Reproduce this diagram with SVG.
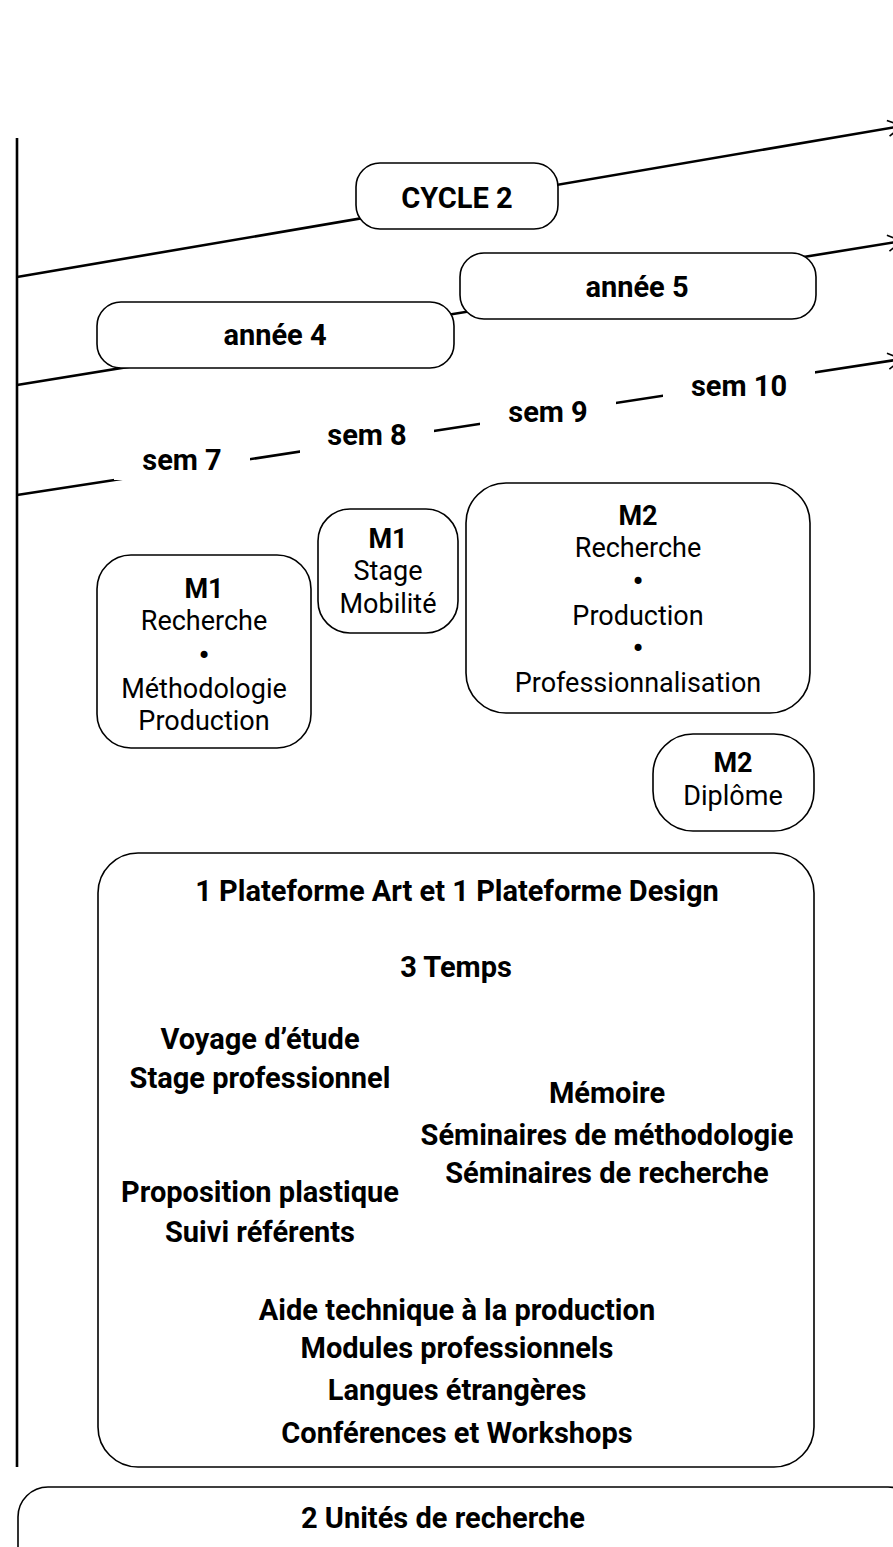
<svg xmlns="http://www.w3.org/2000/svg" width="893" height="1547" viewBox="0 0 893 1547">
<defs>
<style>
.bx{fill:#fff;stroke:#000;stroke-width:1.6}
.ln{stroke:#000;stroke-width:2.6;fill:none}
text{font-family:Roboto,"Open Sans","DejaVu Sans",sans-serif;fill:#000;text-anchor:middle}
.b{font-weight:700}
.r{font-weight:400}
.t29{font-size:29px}
.t27{font-size:27px}
.t28{font-size:29px}
.dot{font-family:"DejaVu Sans",sans-serif;font-size:24px;font-weight:400}
.lab{fill:#fff;stroke:none}
</style>
<marker id="arr" viewBox="0 0 16 18" refX="15" refY="9" markerWidth="16" markerHeight="18" markerUnits="userSpaceOnUse" orient="auto">
<path d="M1,1 L15,9 L1,17" fill="none" stroke="#000" stroke-width="1.6"/>
</marker>
</defs>
<rect width="893" height="1547" fill="#fff"/>
<g id="connectors">
<line class="ln" x1="17" y1="138" x2="17" y2="1467" stroke-width="3"/>
<line class="ln" x1="17" y1="277" x2="902" y2="126" marker-end="url(#arr)"/>
<line class="ln" x1="17" y1="385" x2="902" y2="241" marker-end="url(#arr)"/>
<line class="ln" x1="17" y1="495" x2="902" y2="359" marker-end="url(#arr)"/>
</g>
<g id="cycle2"><rect class="bx" x="356" y="163" width="202" height="66" rx="24"/><text class="b t29" x="457" y="208">CYCLE 2</text></g>
<g id="annee5"><rect class="bx" x="460" y="253" width="356" height="66" rx="24"/><text class="b t29" x="637" y="297">année 5</text></g>
<g id="annee4"><rect class="bx" x="97" y="302" width="357" height="66" rx="24"/><text class="b t29" x="275" y="345">année 4</text></g>
<g id="sem7"><rect class="lab" x="114" y="444" width="136" height="36"/><text class="b t29" x="182" y="470">sem 7</text></g>
<g id="sem8"><rect class="lab" x="300" y="418" width="134" height="36"/><text class="b t29" x="367" y="445">sem 8</text></g>
<g id="sem9"><rect class="lab" x="480" y="395" width="136" height="36"/><text class="b t29" x="548" y="422">sem 9</text></g>
<g id="sem10"><rect class="lab" x="663" y="368" width="152" height="36"/><text class="b t29" x="739" y="396">sem 10</text></g>
<g id="m1-recherche"><rect class="bx" x="97" y="555" width="214" height="193" rx="34"/>
<text class="b t27" x="204" y="598">M1</text>
<text class="r t27" x="204" y="630">Recherche</text>
<text class="dot" x="204" y="664">•</text>
<text class="r t27" x="204" y="698">Méthodologie</text>
<text class="r t27" x="204" y="730">Production</text></g>
<g id="m1-stage"><rect class="bx" x="318" y="509" width="140" height="124" rx="32"/>
<text class="b t27" x="388" y="548">M1</text>
<text class="r t27" x="388" y="580">Stage</text>
<text class="r t27" x="388" y="613">Mobilité</text></g>
<g id="m2-recherche"><rect class="bx" x="466" y="483" width="344" height="230" rx="40"/>
<text class="b t27" x="638" y="525">M2</text>
<text class="r t27" x="638" y="557">Recherche</text>
<text class="dot" x="638" y="590">•</text>
<text class="r t27" x="638" y="625">Production</text>
<text class="dot" x="638" y="657">•</text>
<text class="r t27" x="638" y="692">Professionnalisation</text></g>
<g id="m2-diplome"><rect class="bx" x="653" y="734" width="161" height="97" rx="40"/>
<text class="b t27" x="733" y="772">M2</text>
<text class="r t27" x="733" y="805">Diplôme</text></g>
<g id="plateformes"><rect class="bx" x="98" y="853" width="716" height="614" rx="40"/>
<text class="b t28" x="457" y="901">1 Plateforme Art et 1 Plateforme Design</text>
<text class="b t28" x="456" y="977">3 Temps</text>
<text class="b t28" x="260" y="1049">Voyage d’étude</text>
<text class="b t28" x="260" y="1088">Stage professionnel</text>
<text class="b t28" x="607" y="1103">Mémoire</text>
<text class="b t28" x="607" y="1145">Séminaires de méthodologie</text>
<text class="b t28" x="607" y="1183">Séminaires de recherche</text>
<text class="b t28" x="260" y="1202">Proposition plastique</text>
<text class="b t28" x="260" y="1242">Suivi référents</text>
<text class="b t28" x="457" y="1320">Aide technique à la production</text>
<text class="b t28" x="457" y="1358">Modules professionnels</text>
<text class="b t28" x="457" y="1400">Langues étrangères</text>
<text class="b t28" x="457" y="1443">Conférences et Workshops</text></g>
<g id="unites"><rect class="bx" x="18" y="1487" width="900" height="100" rx="30"/>
<text class="b t28" x="443" y="1528">2 Unités de recherche</text></g>
</svg>
